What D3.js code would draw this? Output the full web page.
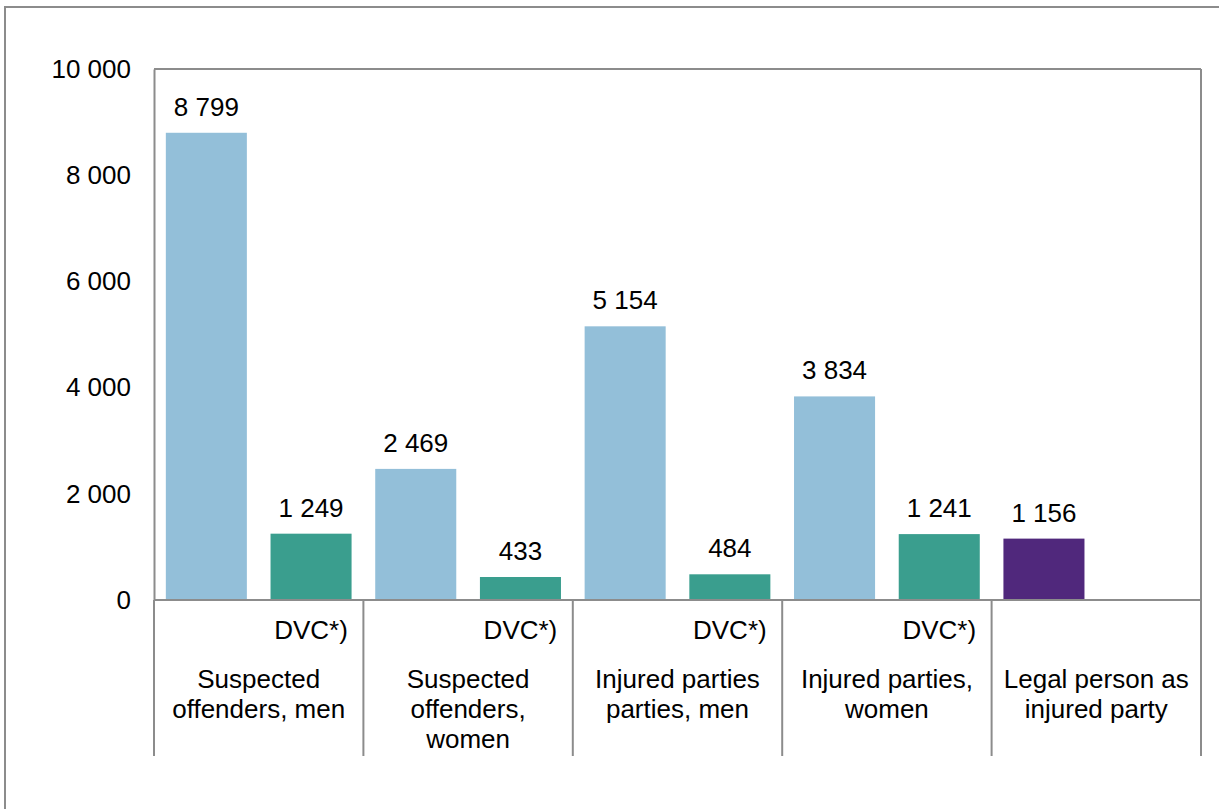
<!DOCTYPE html>
<html>
<head>
<meta charset="utf-8">
<script src="https://cdn.jsdelivr.net/npm/d3@7"></script>
<style>
  html, body { margin: 0; padding: 0; background: #fff; }
  svg { display: block; font-family: "Liberation Sans", Arial, sans-serif; }
</style>
</head>
<body>
<svg id="chart" width="1219" height="809"></svg>
<script>
// ---- data ----
const groupLabels = [
  ["Suspected", "offenders, men"],
  ["Suspected", "offenders,", "women"],
  ["Injured parties", "parties, men"],
  ["Injured parties,", "women"],
  ["Legal person as", "injured party"]
];
const totalValues = [8799, 2469, 5154, 3834];
const dvcValues = [1249, 433, 484, 1241];
const legalValue = [1156];
const dvcLabel = "DVC*)";
const yTicks = [0, 2000, 4000, 6000, 8000, 10000];

// ---- layout ----
const svg = d3.select("#chart");
const plotL = 154, plotR = 1201, plotT = 69, plotB = 600, sepB = 756;
const gray = "#8c8c8c";
const colTotal = "#93bfd9", colDvc = "#3a9e8e", colLegal = "#50287c";

const fmt = d3.formatLocale({decimal: ",", thousands: " ", grouping: [3], currency: ["", ""]}).format(",d");

// 10 slots: 2 per group
const slots = d3.range(groupLabels.length * 2);
const x = d3.scaleBand().domain(slots).range([plotL, plotR]).paddingInner(0.226).paddingOuter(0.113);
const y = d3.scaleLinear().domain([0, 10000]).range([plotB, plotT]);

const bars = [];
totalValues.forEach((v, i) => bars.push({slot: 2 * i, value: v, color: colTotal}));
dvcValues.forEach((v, i) => bars.push({slot: 2 * i + 1, value: v, color: colDvc}));
legalValue.forEach((v) => bars.push({slot: 8, value: v, color: colLegal}));

// outer border
svg.append("rect").attr("x", 5).attr("y", 7).attr("width", 1300).attr("height", 900)
  .attr("fill", "none").attr("stroke", gray).attr("stroke-width", 2);

// bars
svg.append("g").selectAll("rect").data(bars).join("rect")
  .attr("x", d => x(d.slot)).attr("width", x.bandwidth())
  .attr("y", d => y(d.value)).attr("height", d => y(0) - y(d.value))
  .attr("fill", d => d.color);

// value labels
svg.append("g").selectAll("text").data(bars).join("text")
  .attr("x", d => x(d.slot) + x.bandwidth() / 2)
  .attr("y", d => y(d.value) - 17)
  .attr("text-anchor", "middle").attr("font-size", 26).attr("fill", "#000")
  .text(d => fmt(d.value));

// plot frame
svg.append("line").attr("x1", plotL).attr("x2", plotR).attr("y1", plotT).attr("y2", plotT)
  .attr("stroke", gray).attr("stroke-width", 2);
svg.append("line").attr("x1", plotR).attr("x2", plotR).attr("y1", plotT).attr("y2", sepB)
  .attr("stroke", gray).attr("stroke-width", 2);

// y axis
const yAxis = svg.append("g").attr("transform", `translate(${plotL},0)`)
  .call(d3.axisLeft(y).tickValues(yTicks).tickSize(0).tickPadding(23).tickFormat(fmt));
yAxis.select(".domain").attr("stroke", gray).attr("stroke-width", 2);
yAxis.selectAll("text").attr("font-size", 26).attr("fill", "#000")
  .attr("font-family", "'Liberation Sans', Arial, sans-serif");

// x axis baseline
svg.append("line").attr("x1", plotL).attr("x2", plotR).attr("y1", plotB).attr("y2", plotB)
  .attr("stroke", gray).attr("stroke-width", 2);

// group separators
const groupEdges = d3.range(groupLabels.length + 1).map(i =>
  i < groupLabels.length ? x(2 * i) - x.step() * x.paddingOuter() : plotR);
svg.append("g").selectAll("line").data(groupEdges).join("line")
  .attr("x1", d => d).attr("x2", d => d).attr("y1", plotB).attr("y2", sepB)
  .attr("stroke", gray).attr("stroke-width", 2);

// DVC labels
svg.append("g").selectAll("text").data(dvcValues).join("text")
  .attr("x", (d, i) => x(2 * i + 1) + x.bandwidth() / 2)
  .attr("y", 639).attr("text-anchor", "middle").attr("font-size", 26)
  .text(dvcLabel);

// group labels
const gl = svg.append("g").selectAll("text").data(groupLabels).join("text")
  .attr("text-anchor", "middle").attr("font-size", 26)
  .attr("x", (d, i) => (groupEdges[i] + groupEdges[i + 1]) / 2)
  .attr("y", 688);
gl.selectAll("tspan").data(d => d).join("tspan")
  .attr("x", function() { return d3.select(this.parentNode).attr("x"); })
  .attr("dy", (d, i) => i === 0 ? 0 : 30)
  .text(d => d);
</script>
</body>
</html>
